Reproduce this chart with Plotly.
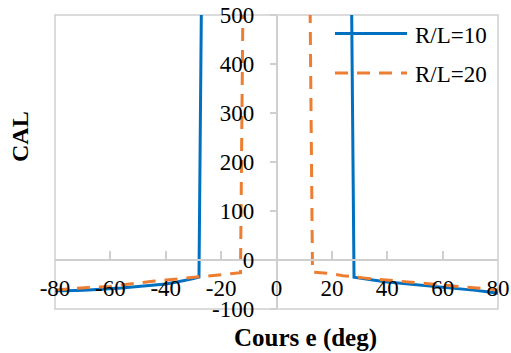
import plotly.graph_objects as go

# ---- data ----
course_rl10_left = [-80, -76, -72, -68, -64, -60, -56, -52, -48, -44, -40, -36, -32, -30, -28, -27]
cal_rl10_left = [-63, -63, -62, -61, -60, -59, -57, -55, -53, -51, -49, -45, -41, -38, -35, 600]
course_rl10_right = [27, 28, 30, 32, 36, 40, 44, 48, 52, 56, 60, 64, 68, 72, 76, 80]
cal_rl10_right = [600, -35, -37, -39, -42, -45, -47, -49, -51, -53, -55, -57, -59, -62, -65, -68]

course_rl20_left = [-80, -76, -72, -68, -64, -60, -56, -52, -48, -44, -40, -36, -32, -28, -24, -20, -16, -13, -12]
cal_rl20_left = [-61, -59, -58, -56, -55, -54, -51, -48, -45, -43, -41, -39, -37, -34, -32, -30, -28, -26, 600]
course_rl20_right = [12, 13, 16, 20, 24, 28, 32, 36, 40, 44, 48, 52, 56, 60, 64, 68, 72, 76, 80]
cal_rl20_right = [600, -25, -26, -28, -32, -35, -37, -39, -41, -43, -46, -48, -50, -52, -54, -56, -58, -59, -61]

x_ticks = [-80, -60, -40, -20, 0, 20, 40, 60, 80]
x_tick_text = ["-80", "-60", "-40", "-20", "0", "20", "40", "60", "80"]
y_ticks = [-100, 0, 100, 200, 300, 400, 500]
y_tick_text = ["-100", "0", "100", "200", "300", "400", "500"]

series_names = ["R/L=10", "R/L=20"]
x_title = "Cours e (deg)"
y_title = "CAL"

BLUE = "#0070C0"
ORANGE = "#ED7D31"
GRID = "#CFCFCF"
FONT = "Liberation Serif"
FS = 23

x10 = course_rl10_left + [None] + course_rl10_right
y10 = cal_rl10_left + [None] + cal_rl10_right
x20 = course_rl20_left + [None] + course_rl20_right
y20 = cal_rl20_left + [None] + cal_rl20_right

fig = go.Figure()
fig.add_trace(go.Scatter(x=x10, y=y10, mode="lines", name=series_names[0],
                         line=dict(color=BLUE, width=3), connectgaps=False, showlegend=False))
fig.add_trace(go.Scatter(x=x20, y=y20, mode="lines", name=series_names[1],
                         line=dict(color=ORANGE, width=3, dash="13px,9px"), connectgaps=False,
                         showlegend=False))

W, H = 511, 353
L, R, T, B = 55, 13, 15, 44
pw, ph = W - L - R, H - T - B

def px(xp):
    return (xp - L) / pw

def py(yp):
    return (H - B - yp) / ph

fig.update_layout(
    width=W, height=H,
    margin=dict(l=L, r=R, t=T, b=B, autoexpand=False),
    paper_bgcolor="white", plot_bgcolor="white",
    font=dict(family=FONT, size=FS, color="black"),
    xaxis=dict(range=[-80, 80], anchor="free", position=100 / 600, automargin=False,
               tickvals=x_ticks, ticktext=x_tick_text,
               showgrid=False, zeroline=False, showline=True, linecolor=GRID, linewidth=1.5,
               ticks="inside", ticklen=8, tickcolor=GRID, tickwidth=1.5,
               ticklabelstandoff=8,
               tickfont=dict(family=FONT, size=FS, color="black")),
    yaxis=dict(range=[-100, 500], anchor="free", position=0.5, automargin=False,
               tickvals=y_ticks, ticktext=y_tick_text,
               showgrid=False, zeroline=False, showline=True, linecolor=GRID, linewidth=1.5,
               ticks="outside", ticklen=6, tickcolor=GRID, tickwidth=1.5,
               ticklabelstandoff=11,
               tickfont=dict(family=FONT, size=FS, color="black")),
    yaxis2=dict(range=[-100, 500], anchor="free", position=0.5, overlaying="y", automargin=False,
                tickvals=y_ticks, showticklabels=False, showgrid=False, zeroline=False,
                showline=False, ticks="inside", ticklen=6, tickcolor=GRID, tickwidth=1.5),
    showlegend=False,
)

# plot-area border
fig.add_shape(type="rect", xref="paper", yref="paper", x0=0, x1=1, y0=0, y1=1,
              line=dict(color=GRID, width=1.5), layer="below")

# legend (drawn manually to match long line samples)
fig.add_shape(type="line", xref="paper", yref="paper", x0=px(335), x1=px(407),
              y0=py(33.5), y1=py(33.5), line=dict(color=BLUE, width=3))
fig.add_shape(type="line", xref="paper", yref="paper", x0=px(335), x1=px(407),
              y0=py(73), y1=py(73), line=dict(color=ORANGE, width=3, dash="13px,9px"))
fig.add_annotation(x=px(413), y=py(36), xref="paper", yref="paper", text=series_names[0],
                   showarrow=False, xanchor="left", yanchor="middle",
                   font=dict(family=FONT, size=FS, color="black"))
fig.add_annotation(x=px(413), y=py(74.5), xref="paper", yref="paper", text=series_names[1],
                   showarrow=False, xanchor="left", yanchor="middle",
                   font=dict(family=FONT, size=FS, color="black"))

# axis titles
fig.add_annotation(x=px(20), y=py(137), xref="paper", yref="paper", text="<b>%s</b>" % y_title,
                   showarrow=False, textangle=-90, xanchor="center", yanchor="middle",
                   font=dict(family=FONT, size=24, color="black"))
fig.add_annotation(x=px(305), y=py(338), xref="paper", yref="paper", text="<b>%s</b>" % x_title,
                   showarrow=False, xanchor="center", yanchor="middle",
                   font=dict(family=FONT, size=25, color="black"))

fig.write_html("out.html")
